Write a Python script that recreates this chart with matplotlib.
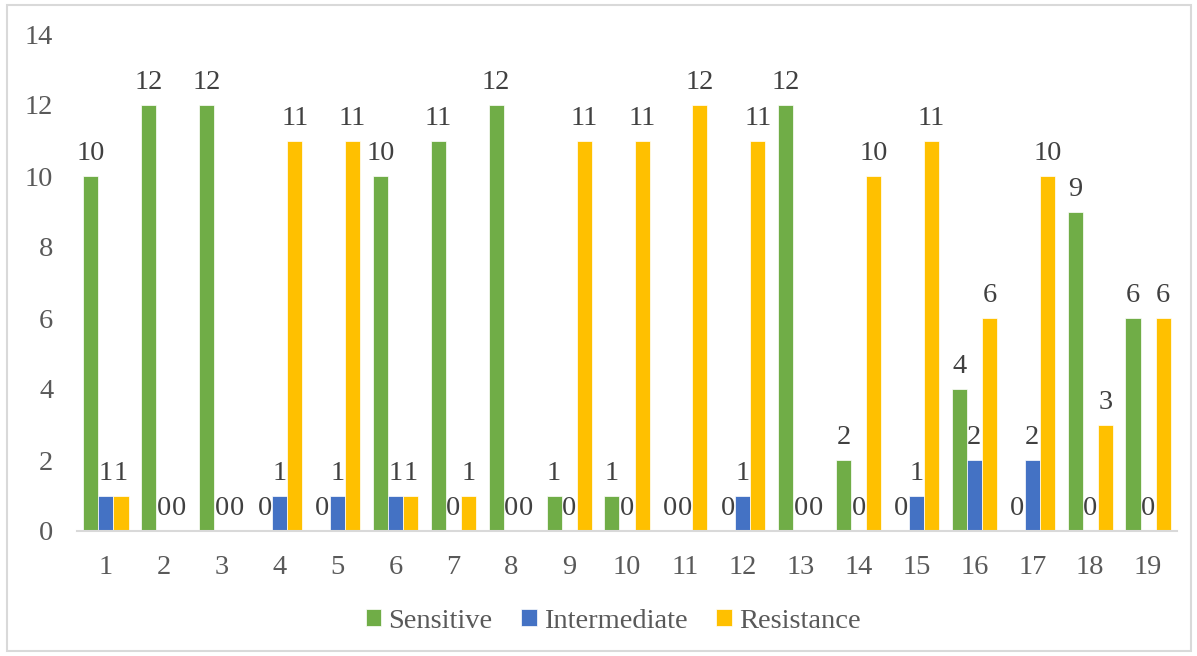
import matplotlib
matplotlib.use("Agg")
import matplotlib.pyplot as plt
import numpy as np
from matplotlib.patches import Rectangle

categories = [str(i) for i in range(1, 20)]
sensitive = [10, 12, 12, 0, 0, 10, 11, 12, 1, 1, 0, 0, 12, 2, 0, 4, 0, 9, 6]
intermediate = [1, 0, 0, 1, 1, 1, 0, 0, 0, 0, 0, 1, 0, 0, 1, 2, 2, 0, 0]
resistance = [1, 0, 0, 11, 11, 1, 1, 0, 11, 11, 12, 11, 0, 10, 11, 6, 10, 3, 6]

series = [
    ("Sensitive", sensitive, "#70AD47"),
    ("Intermediate", intermediate, "#4472C4"),
    ("Resistance", resistance, "#FFC000"),
]

plt.rcParams["font.family"] = ["Liberation Serif", "DejaVu Serif"]
text_color = "#595959"
label_color = "#404040"
fs = 20.5

W, H = 1197, 656
fig = plt.figure(figsize=(W / 100, H / 100), dpi=100)
fig.patches.append(Rectangle((7 / W, 5 / H), (W - 13) / W, (H - 10) / H,
                             transform=fig.transFigure, fill=False,
                             edgecolor="#D9D9D9", linewidth=1.5))

ax = fig.add_axes([77 / W, (H - 531) / H, 1100 / W, (531 - 34) / H])

x = np.arange(len(categories))
bw = 0.26
for i, (name, vals, col) in enumerate(series):
    pos = x + (i - 1) * bw
    ax.bar(pos, vals, width=bw, color=col, label=name,
           edgecolor="white", linewidth=0.5)
    for px, v in zip(pos, vals):
        ax.annotate(str(v), (px, v), xytext=(0, 7), textcoords="offset points",
                    ha="center", va="bottom", fontsize=fs, color=label_color)

ax.set_xlim(-0.5, len(categories) - 0.5)
ax.set_ylim(0, 14)
ax.set_yticks(range(0, 15, 2))
ax.set_xticks(x)
ax.set_xticklabels(categories)
ax.tick_params(axis="both", length=0, labelsize=fs, labelcolor=text_color)
ax.tick_params(axis="y", pad=17)
ax.tick_params(axis="x", pad=17)
for side in ["top", "right", "left"]:
    ax.spines[side].set_visible(False)
ax.spines["bottom"].set_color("#D9D9D9")
ax.spines["bottom"].set_linewidth(1.5)

fig.legend(loc="center", bbox_to_anchor=(613 / W, 1 - 621 / H), ncol=3,
           frameon=False, fontsize=fs, handlelength=0.55, handleheight=0.55,
           handletextpad=0.25, columnspacing=1.0, labelcolor=text_color)

fig.savefig("out.png", dpi=100)
